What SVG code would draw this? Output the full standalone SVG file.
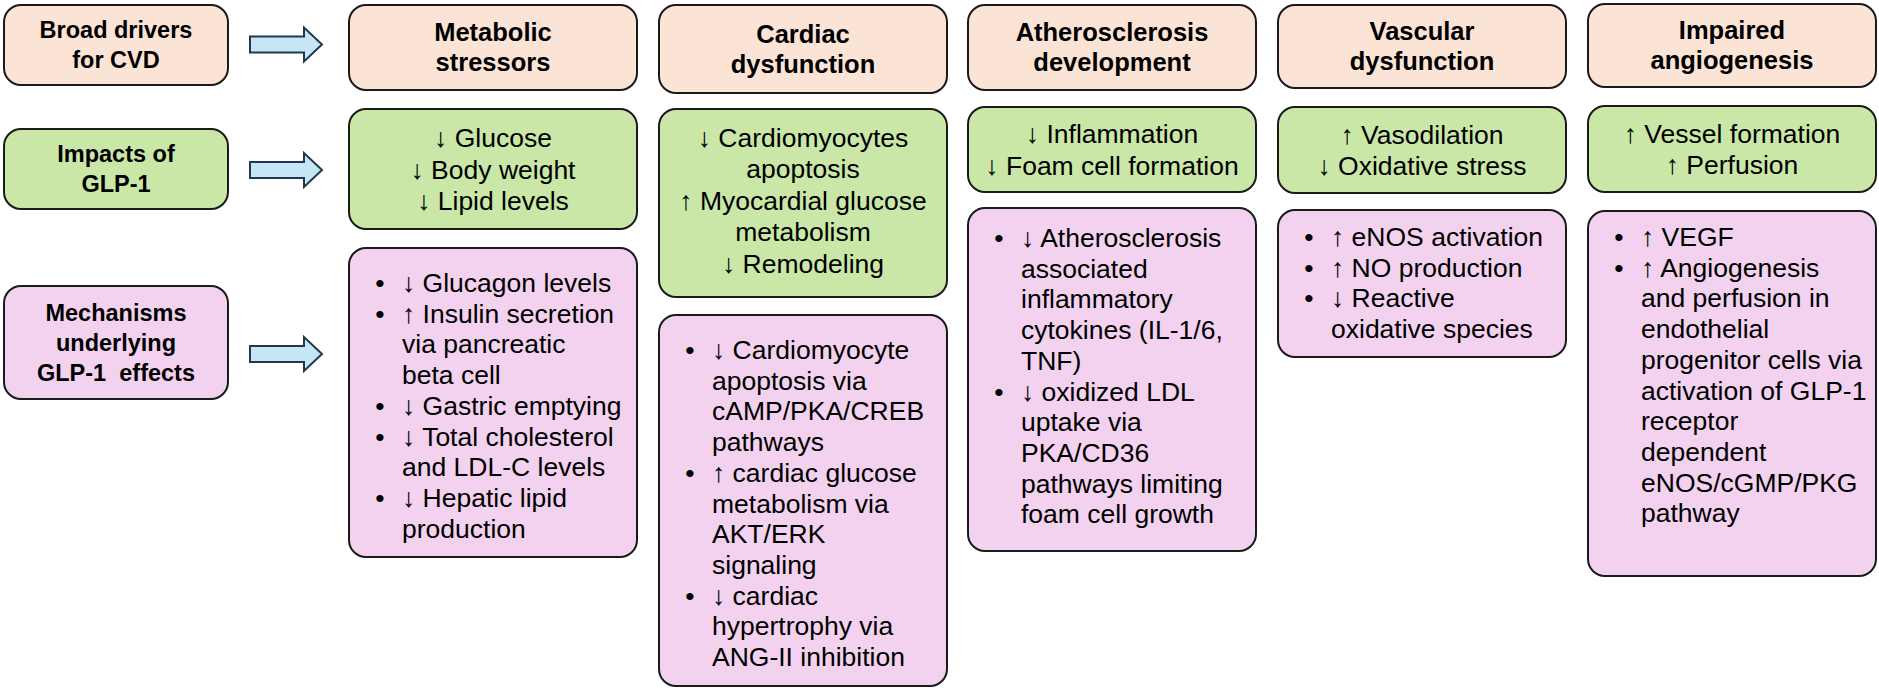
<svg xmlns="http://www.w3.org/2000/svg" width="1879" height="690" viewBox="0 0 1879 690">
<style>
rect.box{stroke:#1a1a1a;stroke-width:2}
.peach{fill:#FBE3D6}
.green{fill:#CAE7A8}
.pink{fill:#F2D2EE}
text{font-family:"Liberation Sans",Arial,sans-serif;fill:#000}
.label{font-size:23.5px;font-weight:bold;text-anchor:middle}
.title{font-size:25.5px;font-weight:bold;text-anchor:middle}
.body{font-size:26.5px;text-anchor:middle}
.list{font-size:26.5px}
.bul{font-size:26.5px;text-anchor:middle}
.arrow{fill:#C6E6F5;stroke:#20384F;stroke-width:2;stroke-linejoin:miter}
</style>
<defs>
<path id="blockArrow" d="M0,-8 H54 V-17 L72,0 L54,17 V8 H0 Z"/>
</defs>

<g id="connectors">
<use href="#blockArrow" class="arrow" transform="translate(250,44.5)"/>
<use href="#blockArrow" class="arrow" transform="translate(250,170)"/>
<use href="#blockArrow" class="arrow" transform="translate(250,354)"/>
</g>

<!-- Row labels -->
<g id="broad-drivers">
<rect class="box peach" x="4" y="5" width="224" height="80" rx="17"/>
<text class="label"><tspan x="116" y="38">Broad drivers</tspan><tspan x="116" y="68">for CVD</tspan></text>
</g>
<g id="impacts">
<rect class="box green" x="4" y="129" width="224" height="80" rx="17"/>
<text class="label"><tspan x="116" y="162">Impacts of</tspan><tspan x="116" y="192">GLP-1</tspan></text>
</g>
<g id="mechanisms">
<rect class="box pink" x="4" y="286" width="224" height="113" rx="17"/>
<text class="label"><tspan x="116" y="320.5">Mechanisms</tspan><tspan x="116" y="350.5">underlying</tspan><tspan x="116" y="380.5" xml:space="preserve">GLP-1  effects</tspan></text>
</g>

<!-- Column 1: Metabolic -->
<g id="metabolic-stressors">
<rect class="box peach" x="349" y="5" width="288" height="85" rx="17"/>
<text class="title"><tspan x="493" y="41">Metabolic</tspan><tspan x="493" y="71">stressors</tspan></text>
</g>
<g id="metabolic-impact">
<rect class="box green" x="349" y="109" width="288" height="120" rx="17"/>
<text class="body"><tspan x="493" y="147">↓ Glucose</tspan><tspan x="493" y="178.5">↓ Body weight</tspan><tspan x="493" y="210">↓ Lipid levels</tspan></text>
</g>
<g id="metabolic-mechanisms">
<rect class="box pink" x="349" y="248" width="288" height="309" rx="17"/>
<text class="bul"><tspan x="380" y="292">•</tspan><tspan x="380" y="322.7">•</tspan><tspan x="380" y="414.8">•</tspan><tspan x="380" y="445.5">•</tspan><tspan x="380" y="506.9">•</tspan></text>
<text class="list"><tspan x="402" y="292">↓ Glucagon levels</tspan><tspan x="402" y="322.7">↑ Insulin secretion</tspan><tspan x="402" y="353.4">via pancreatic</tspan><tspan x="402" y="384.1">beta cell</tspan><tspan x="402" y="414.8">↓ Gastric emptying</tspan><tspan x="402" y="445.5">↓ Total cholesterol</tspan><tspan x="402" y="476.2">and LDL-C levels</tspan><tspan x="402" y="506.9">↓ Hepatic lipid</tspan><tspan x="402" y="537.6">production</tspan></text>
</g>

<!-- Column 2: Cardiac -->
<g id="cardiac-dysfunction">
<rect class="box peach" x="659" y="5" width="288" height="88" rx="17"/>
<text class="title"><tspan x="803" y="42.5">Cardiac</tspan><tspan x="803" y="72.5">dysfunction</tspan></text>
</g>
<g id="cardiac-impact">
<rect class="box green" x="659" y="109" width="288" height="188" rx="17"/>
<text class="body"><tspan x="803" y="146.5">↓ Cardiomyocytes</tspan><tspan x="803" y="178">apoptosis</tspan><tspan x="803" y="209.5">↑ Myocardial glucose</tspan><tspan x="803" y="241">metabolism</tspan><tspan x="803" y="272.5">↓ Remodeling</tspan></text>
</g>
<g id="cardiac-mechanisms">
<rect class="box pink" x="659" y="315" width="288" height="371" rx="17"/>
<text class="bul"><tspan x="690" y="359">•</tspan><tspan x="690" y="481.8">•</tspan><tspan x="690" y="604.6">•</tspan></text>
<text class="list"><tspan x="712" y="359">↓ Cardiomyocyte</tspan><tspan x="712" y="389.7">apoptosis via</tspan><tspan x="712" y="420.4">cAMP/PKA/CREB</tspan><tspan x="712" y="451.1">pathways</tspan><tspan x="712" y="481.8">↑ cardiac glucose</tspan><tspan x="712" y="512.5">metabolism via</tspan><tspan x="712" y="543.2">AKT/ERK</tspan><tspan x="712" y="573.9">signaling</tspan><tspan x="712" y="604.6">↓ cardiac</tspan><tspan x="712" y="635.3">hypertrophy via</tspan><tspan x="712" y="666">ANG-II inhibition</tspan></text>
</g>

<!-- Column 3: Atherosclerosis -->
<g id="atherosclerosis-development">
<rect class="box peach" x="968" y="5" width="288" height="85" rx="17"/>
<text class="title"><tspan x="1112" y="41">Atherosclerosis</tspan><tspan x="1112" y="71">development</tspan></text>
</g>
<g id="atherosclerosis-impact">
<rect class="box green" x="968" y="107" width="288" height="85" rx="17"/>
<text class="body"><tspan x="1112" y="143">↓ Inflammation</tspan><tspan x="1112" y="174.5">↓ Foam cell formation</tspan></text>
</g>
<g id="atherosclerosis-mechanisms">
<rect class="box pink" x="968" y="208" width="288" height="343" rx="17"/>
<text class="bul"><tspan x="999" y="247">•</tspan><tspan x="999" y="400.5">•</tspan></text>
<text class="list"><tspan x="1021" y="247">↓ Atherosclerosis</tspan><tspan x="1021" y="277.7">associated</tspan><tspan x="1021" y="308.4">inflammatory</tspan><tspan x="1021" y="339.1">cytokines (IL-1/6,</tspan><tspan x="1021" y="369.8">TNF)</tspan><tspan x="1021" y="400.5">↓ oxidized LDL</tspan><tspan x="1021" y="431.2">uptake via</tspan><tspan x="1021" y="461.9">PKA/CD36</tspan><tspan x="1021" y="492.6">pathways limiting</tspan><tspan x="1021" y="523.3">foam cell growth</tspan></text>
</g>

<!-- Column 4: Vascular -->
<g id="vascular-dysfunction">
<rect class="box peach" x="1278" y="5" width="288" height="83" rx="17"/>
<text class="title"><tspan x="1422" y="40">Vascular</tspan><tspan x="1422" y="70">dysfunction</tspan></text>
</g>
<g id="vascular-impact">
<rect class="box green" x="1278" y="107" width="288" height="86" rx="17"/>
<text class="body"><tspan x="1422" y="143.5">↑ Vasodilation</tspan><tspan x="1422" y="175">↓ Oxidative stress</tspan></text>
</g>
<g id="vascular-mechanisms">
<rect class="box pink" x="1278" y="210" width="288" height="147" rx="17"/>
<text class="bul"><tspan x="1309" y="246">•</tspan><tspan x="1309" y="276.7">•</tspan><tspan x="1309" y="307.4">•</tspan></text>
<text class="list"><tspan x="1331" y="246">↑ eNOS activation</tspan><tspan x="1331" y="276.7">↑ NO production</tspan><tspan x="1331" y="307.4">↓ Reactive</tspan><tspan x="1331" y="338.1">oxidative species</tspan></text>
</g>

<!-- Column 5: Angiogenesis -->
<g id="impaired-angiogenesis">
<rect class="box peach" x="1588" y="4" width="288" height="83" rx="17"/>
<text class="title"><tspan x="1732" y="39">Impaired</tspan><tspan x="1732" y="69">angiogenesis</tspan></text>
</g>
<g id="angiogenesis-impact">
<rect class="box green" x="1588" y="106" width="288" height="86" rx="17"/>
<text class="body"><tspan x="1732" y="142.5">↑ Vessel formation</tspan><tspan x="1732" y="174">↑ Perfusion</tspan></text>
</g>
<g id="angiogenesis-mechanisms">
<rect class="box pink" x="1588" y="211" width="288" height="365" rx="17"/>
<text class="bul"><tspan x="1619" y="246">•</tspan><tspan x="1619" y="276.7">•</tspan></text>
<text class="list"><tspan x="1641" y="246">↑ VEGF</tspan><tspan x="1641" y="276.7">↑ Angiogenesis</tspan><tspan x="1641" y="307.4">and perfusion in</tspan><tspan x="1641" y="338.1">endothelial</tspan><tspan x="1641" y="368.8">progenitor cells via</tspan><tspan x="1641" y="399.5">activation of GLP-1</tspan><tspan x="1641" y="430.2">receptor</tspan><tspan x="1641" y="460.9">dependent</tspan><tspan x="1641" y="491.6">eNOS/cGMP/PKG</tspan><tspan x="1641" y="522.3">pathway</tspan></text>
</g>
</svg>
